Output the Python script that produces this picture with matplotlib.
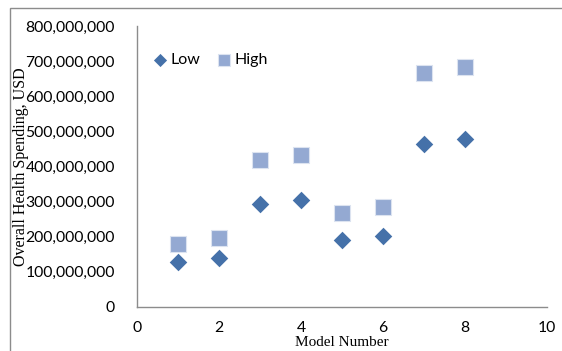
import matplotlib
matplotlib.use("Agg")
import matplotlib.pyplot as plt
from matplotlib.patches import Rectangle
from matplotlib.ticker import FuncFormatter

model = [1, 2, 3, 4, 5, 6, 7, 8]
low = [128e6, 140e6, 293e6, 305e6, 190e6, 202e6, 464e6, 477e6]
high = [179e6, 196e6, 418e6, 434e6, 268e6, 286e6, 665e6, 683e6]
x_ticks = [0, 2, 4, 6, 8, 10]
y_ticks = [0, 100e6, 200e6, 300e6, 400e6, 500e6, 600e6, 700e6, 800e6]

fig = plt.figure(figsize=(5.62, 3.51), dpi=100)
ax = fig.add_axes([137/562, 1-307/351, (547-137)/562, (307-26)/351])

ax.scatter(model, low, marker='D', s=80, color='#4571A9', label='Low', zorder=3, linewidths=0)
ax.scatter(model, high, marker='s', s=135, color='#94A9D2', label='High', zorder=3,
           edgecolors='#DCE3F0', linewidths=0.8)

ax.set_xlim(0, 10)
ax.set_ylim(0, 800e6)
ax.set_xticks(x_ticks)
ax.set_yticks(y_ticks)
ax.yaxis.set_major_formatter(FuncFormatter(lambda v, p: f"{int(round(v)):,}"))
for sp in ['top', 'right']:
    ax.spines[sp].set_visible(False)
for sp in ['left', 'bottom']:
    ax.spines[sp].set_color('#8C8C8C')
    ax.spines[sp].set_linewidth(1.0)
ax.tick_params(length=0, labelsize=11.3)
for lab in ax.get_xticklabels() + ax.get_yticklabels():
    lab.set_family('Lato')
ax.tick_params(axis='y', pad=16)
ax.tick_params(axis='x', pad=10)

ax.set_xlabel('Model Number', family='Liberation Serif', fontsize=11)
ax.xaxis.set_label_coords(0.5, -(336-307)/281, transform=ax.transAxes)
ax.xaxis.label.set_va('top')
ax.set_ylabel('Overall Health Spending, USD', family='Liberation Serif', fontsize=11.5)
ax.yaxis.set_label_coords(-(137-21)/410, 0.5)
ax.yaxis.label.set_va('center')

leg = ax.legend(loc='upper left', bbox_to_anchor=(0.01, 0.945), ncol=2, frameon=False,
                prop={'family': 'Lato', 'size': 11.5}, handletextpad=0.15,
                columnspacing=1.0, handlelength=1.0, borderaxespad=0.3, markerscale=0.75)

fig.patches.append(Rectangle((10/562, -0.1), 1.2, (351-8)/351 + 0.1, transform=fig.transFigure,
                             fill=False, edgecolor='#8C8C8C', linewidth=1.0, clip_on=False))

fig.savefig('out.png', dpi=100)
